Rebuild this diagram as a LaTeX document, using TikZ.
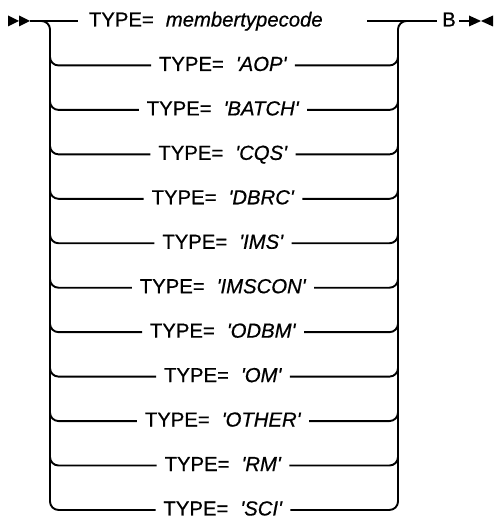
\documentclass[tikz,border=0pt]{standalone}
\usepackage{fontspec}
\setmainfont{Liberation Sans}[UprightFeatures={FakeBold=0.6},ItalicFeatures={FakeBold=0.6}]
\newcommand\qq[1]{\textquotesingle#1\textquotesingle}
\begin{document}
\begin{tikzpicture}[x=1pt,y=-1pt,line width=1.9pt,
  txt/.style={font=\fontsize{20.3}{24}\selectfont,inner sep=0pt,anchor=base},
  rr/.style={rounded corners=8.5pt}]
\useasboundingbox (0,0) rectangle (498,519);
% start symbol
\fill (8,15.5) -- (19,21) -- (8,26.5) -- cycle;
\fill (19,15.5) -- (30,21) -- (19,26.5) -- cycle;
\coordinate (s0) at (30,21);
% first row
\node[txt,anchor=base west] (t0) at (88,26.5) {TYPE=\hspace{12pt}\textit{membertypecode}};
\coordinate (a0) at (78,21);
\coordinate (b0) at (367,21);
\draw (s0) -- (a0);
\draw[rr] (34,21) -| (50,50);
\draw[rr] (398,50) |- (412,21);
\node[txt] (B) at (449,26.5) {B};
\coordinate (e0) at (437,21);
\draw (b0) -- (e0);
\coordinate (e1) at (459,21);
\coordinate (e2) at (470,21);
\draw (e1) -- (e2);
\fill (469,15.5) -- (481,21) -- (469,26.5) -- cycle;
\fill (493,15.5) -- (481,21) -- (493,26.5) -- cycle;
% other rows
\foreach \v [count=\i] in {\qq{AOP},\qq{BATCH},\qq{CQS},\qq{DBRC},\qq{IMS},\qq{IMSCON},\qq{ODBM},\qq{OM},\qq{OTHER},\qq{RM},\qq{SCI}}{
  \pgfmathsetmacro\yy{21+\i*44.45}
  \node[txt] (t\i) at (223,\yy+5.5) {TYPE=\hspace{12pt}\textit{\v}};
  \path ([xshift=-7pt]t\i.base west) ++(0,-5.5) coordinate (a\i);
  \path ([xshift=7pt]t\i.base east) ++(0,-5.5) coordinate (b\i);
  \draw[rr] (50,40) |- (a\i);
  \draw[rr] (b\i) -| (398,40);
}
\end{tikzpicture}
\end{document}
